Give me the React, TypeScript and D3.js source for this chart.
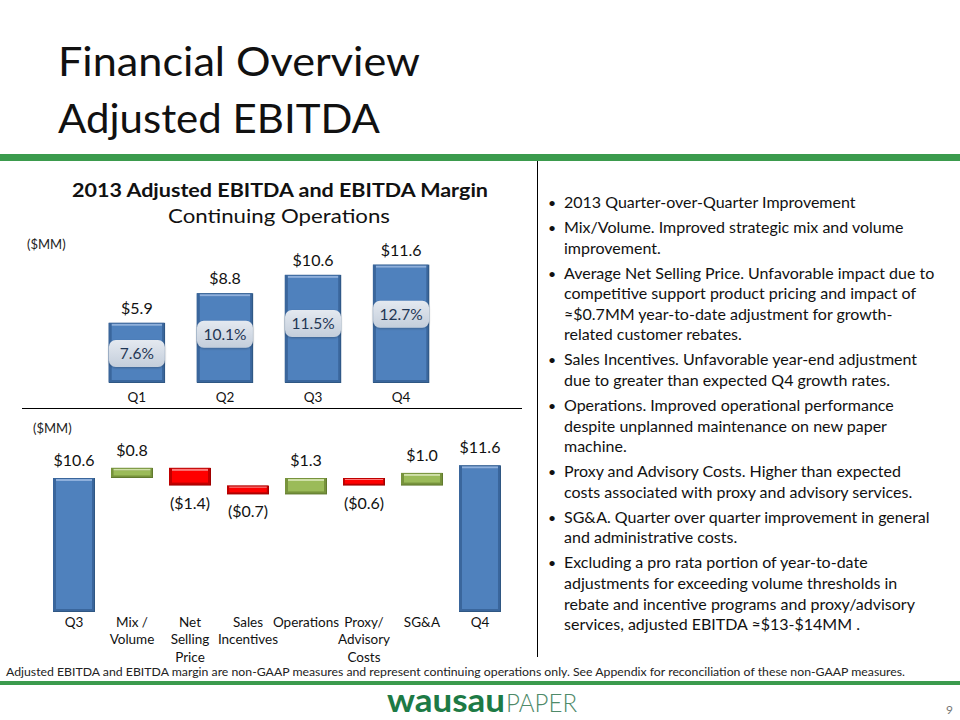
import React from "react";
import * as d3 from "d3";

const quarters = ["Q1", "Q2", "Q3", "Q4"];
const ebitda = [5.9, 8.8, 10.6, 11.6];
const margins = [7.6, 10.1, 11.5, 12.7];

const bridgeCats = ["Q3", "Mix / Volume", "Net Selling Price", "Sales Incentives", "Operations", "Proxy/ Advisory Costs", "SG&A", "Q4"];
const bridgeCatLines = [["Q3"], ["Mix /", "Volume"], ["Net", "Selling", "Price"], ["Sales", "Incentives"], ["Operations"], ["Proxy/", "Advisory", "Costs"], ["SG&A"], ["Q4"]];
const bridgeValues = [10.6, 0.8, -1.4, -0.7, 1.3, -0.6, 1.0, 11.6];
const bridgeIsTotal = [true, false, false, false, false, false, false, true];

const bullets = [
  ["2013 Quarter-over-Quarter  Improvement"],
  ["Mix/Volume. Improved strategic mix and volume", "improvement."],
  ["Average Net Selling Price. Unfavorable impact due to", "competitive support product pricing and impact of", "\u2248$0.7MM year-to-date adjustment for growth-", "related customer rebates."],
  ["Sales Incentives. Unfavorable year-end adjustment", "due to greater than expected  Q4 growth rates."],
  ["Operations. Improved operational performance", "despite unplanned maintenance on new  paper", "machine."],
  ["Proxy and Advisory Costs. Higher than expected", "costs associated with proxy and advisory services."],
  ["SG&A. Quarter over quarter improvement in general", "and administrative costs."],
  ["Excluding a pro rata portion of year-to-date", "adjustments for exceeding volume thresholds in", "rebate and incentive programs and proxy/advisory", "services, adjusted EBITDA \u2248$13-$14MM ."],
];

const FONT = "Lato, 'Open Sans', 'DejaVu Sans', sans-serif";
const GREEN = "#3b9b4d";

type Pal = { edge: string; face: string; hi: string; dark: string };
const BLUE: Pal = { edge: "#3a669c", face: "#4f81bd", hi: "#8fb0dc", dark: "#2f5783" };
const LGREEN: Pal = { edge: "#77933c", face: "#9bbb59", hi: "#cfe0a8", dark: "#617a2e" };
const RED: Pal = { edge: "#c00000", face: "#ff0000", hi: "#ff7a7a", dark: "#a00000" };

function Bevel({ x, y, w, h, p }: { x: number; y: number; w: number; h: number; p: Pal }) {
  const b = Math.min(3, h / 4);
  return (
    <g>
      <rect x={x} y={y} width={w} height={h} fill={p.dark} />
      <rect x={x} y={y} width={w - 1} height={h - 1} fill={p.edge} />
      <rect x={x + b} y={y + b} width={Math.max(0, w - 2 * b)} height={Math.max(0, h - 2 * b)} fill={p.face} />
      <rect x={x + b} y={y + 1} width={Math.max(0, w - 2 * b)} height={Math.max(1, b - 1)} fill={p.hi} />
    </g>
  );
}

export default function App() {
  // ---- top chart scales
  const xTop = d3.scaleBand<string>().domain(quarters).range([77, 461]).paddingInner(0.36).paddingOuter(0.36);
  const yTop = d3.scaleLinear().domain([0, 14]).range([383, 240.2]);
  const yMargin = d3.scaleLinear().domain([0, 14]).range([412, 304.2]);

  // ---- bridge scales
  const xBr = d3.scaleBand<string>().domain(bridgeCats).range([37, 517]).paddingInner(0.276).paddingOuter(0.276);
  const yBr = d3.scaleLinear().domain([0, 12]).range([612, 460.3]);

  let run = 0;
  const bridge = bridgeValues.map((v, i) => {
    let lo: number, hi: number;
    if (bridgeIsTotal[i]) {
      lo = 0; hi = v; run = v;
    } else {
      const start = run;
      run = run + v;
      lo = Math.min(start, run); hi = Math.max(start, run);
    }
    return { cat: bridgeCats[i], v, lo, hi, total: bridgeIsTotal[i] };
  });
  const fmt = (v: number) => (v < 0 ? `($${Math.abs(v).toFixed(1)})` : `$${v.toFixed(1)}`);

  // bullets layout
  const bulletLines: { t: string; y: number; first: boolean }[] = [];
  let by = 208;
  bullets.forEach((p, pi) => {
    if (pi > 0) by += 25 - 20.6;
    p.forEach((t, li) => {
      if (li > 0 || pi > 0) by += 20.6;
      bulletLines.push({ t, y: by, first: li === 0 });
    });
  });

  return (
    <svg width={960} height={720} style={{ position: "absolute", left: 0, top: 0, background: "#fff" }} fontFamily={FONT}>
      <defs>
        <linearGradient id="boxg" x1="0" y1="0" x2="0" y2="1">
          <stop offset="0" stopColor="#e4e9f0" />
          <stop offset="1" stopColor="#c4cedb" />
        </linearGradient>
        <filter id="sh" x="-20%" y="-20%" width="140%" height="160%">
          <feDropShadow dx="0" dy="1" stdDeviation="1" floodColor="#000" floodOpacity="0.25" />
        </filter>
      </defs>
      <rect x={0} y={0} width={960} height={720} fill="#fff" />

      {/* slide title */}
      <text x={58} y={76} fontSize={40} fill="#111" textLength={362} lengthAdjust="spacingAndGlyphs">Financial Overview</text>
      <text x={58} y={133} fontSize={40} fill="#111" textLength={322} lengthAdjust="spacingAndGlyphs">Adjusted EBITDA</text>

      {/* green band and divider */}
      <rect x={0} y={154} width={960} height={7} fill={GREEN} />
      <line x1={537.5} x2={537.5} y1={161} y2={657} stroke="#000" strokeWidth={1} />

      {/* top chart */}
      <text x={280} y={197} fontSize={19} fontWeight="bold" textAnchor="middle" fill="#111" textLength={416} lengthAdjust="spacingAndGlyphs">2013 Adjusted EBITDA and EBITDA Margin</text>
      <text x={279} y={223} fontSize={19} textAnchor="middle" fill="#111" textLength={222} lengthAdjust="spacingAndGlyphs">Continuing Operations</text>
      <text x={27} y={249} fontSize={13} fill="#222">($MM)</text>

      {quarters.map((q, i) => {
        const x = xTop(q)!;
        const w = xTop.bandwidth();
        const y = yTop(ebitda[i]);
        const cx = x + w / 2;
        const my = yMargin(margins[i]);
        return (
          <g key={q}>
            <Bevel x={x} y={y} w={w} h={yTop(0) - y} p={BLUE} />
            <text x={cx} y={y - 9} fontSize={16} textAnchor="middle" fill="#111">{`$${ebitda[i].toFixed(1)}`}</text>
            <rect x={cx - 28} y={my - 13.5} width={56} height={27} rx={7} fill="url(#boxg)" filter="url(#sh)" />
            <text x={cx} y={my + 5.5} fontSize={15.5} textAnchor="middle" fill="#1f3654">{`${margins[i].toFixed(1)}%`}</text>
            <text x={cx} y={402} fontSize={13.5} textAnchor="middle" fill="#111">{q}</text>
          </g>
        );
      })}
      <line x1={22} x2={522} y1={408.5} y2={408.5} stroke="#000" strokeWidth={1} />

      {/* bridge chart */}
      <text x={33} y={433} fontSize={13} fill="#222">($MM)</text>
      {bridge.map((d, i) => {
        const x = xBr(d.cat)!;
        const w = xBr.bandwidth();
        const yt = yBr(d.hi);
        const yb = yBr(d.lo);
        const cx = x + w / 2;
        const pal = d.total ? BLUE : d.v >= 0 ? LGREEN : RED;
        return (
          <g key={d.cat}>
            <Bevel x={x} y={yt} w={w} h={yb - yt} p={pal} />
            <text x={cx} y={d.v >= 0 ? yt - 12 : yb + 23} fontSize={16} textAnchor="middle" fill="#111">{fmt(d.v)}</text>
            {bridgeCatLines[i].map((t, li) => (
              <text key={li} x={cx} y={627 + li * 17.3} fontSize={13.5} textAnchor="middle" fill="#111">{t}</text>
            ))}
          </g>
        );
      })}

      {/* bullets */}
      {bulletLines.map((l, i) => (
        <g key={i}>
          {l.first && <text x={548} y={l.y} fontSize={14} fill="#111">{"\u2022"}</text>}
          <text x={564} y={l.y} fontSize={16} fill="#111">{l.t}</text>
        </g>
      ))}

      {/* footnote */}
      <text x={6} y={676} fontSize={10.5} fill="#222" textLength={899} lengthAdjust="spacingAndGlyphs">Adjusted EBITDA  and EBITDA margin are non-GAAP measures and represent continuing operations only.  See Appendix for reconciliation of these non-GAAP measures.</text>
      <rect x={0} y={681} width={960} height={4} fill={GREEN} />

      {/* logo */}
      <text x={387} y={712} fontSize={33} fontWeight="bold" fill="#1d7a45" textLength={118} lengthAdjust="spacingAndGlyphs">wausau</text>
      <text x={506} y={712} fontSize={26} fontWeight={300} fill="#4f8a69" textLength={71} lengthAdjust="spacingAndGlyphs">PAPER</text>
      <text x={946} y={714} fontSize={12} fill="#777">9</text>
    </svg>
  );
}
